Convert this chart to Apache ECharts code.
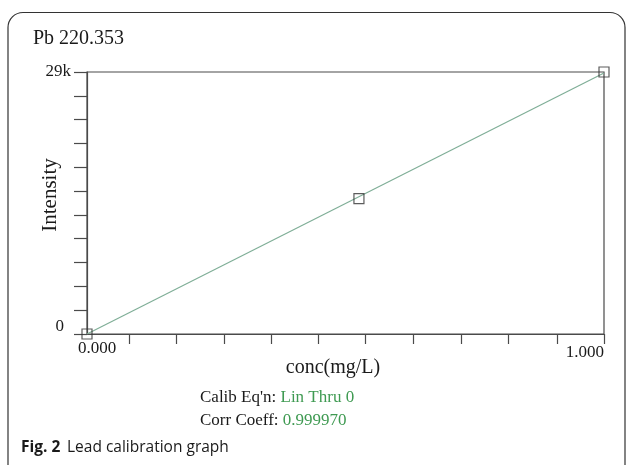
<!DOCTYPE html>
<html>
<head>
<meta charset="utf-8">
<style>
  html, body { margin: 0; padding: 0; background: #fff; }
  #chart { width: 627px; height: 465px; }
</style>
<script src="https://cdn.jsdelivr.net/npm/echarts@6/dist/echarts.min.js"></script>
</head>
<body>
<div id="chart"></div>
<script>
// Calibration standards for Pb 220.353
const concValues = [0.000, 0.526, 1.000];        // mg/L
const intensityValues = [0, 14980, 29000];       // counts

// Axis ranges and tick positions
const xMin = 0, xMax = 1;
const yMin = 0, yMax = 29000;
const xTickValues = [0.082, 0.173, 0.265, 0.356, 0.447, 0.539, 0.631, 0.723, 0.815, 0.909, 1.000];
const xLabelValues = [0, 1];
const yTickCount = 11;
const yLabelValues = [0, 29000];

// Calibration summary
const calibEquation = 'Lin Thru 0';
const corrCoeff = '0.999970';

// Linear fit forced through the origin: slope = Σxy / Σx²
let sxy = 0, sxx = 0;
concValues.forEach((x, i) => { sxy += x * intensityValues[i]; sxx += x * x; });
const slope = sxy / sxx;
const fitLine = [[xMin, slope * xMin], [xMax, slope * xMax]];

const yTickValues = [];
for (let k = 0; k <= yTickCount; k++) yTickValues.push(yMin + (yMax - yMin) * k / yTickCount);

const points = concValues.map((x, i) => [x, intensityValues[i]]);

const axisColor = '#4a4a4a';
const serif = '"Liberation Serif", "Times New Roman", serif';
const green = '#3f9a52';

const chart = echarts.init(document.getElementById('chart'));
chart.setOption({
  animation: false,
  backgroundColor: '#ffffff',
  grid: {
    left: 87, right: 23, top: 72, bottom: 131,
    show: true, borderColor: axisColor, borderWidth: 1.2, backgroundColor: 'transparent'
  },
  title: {
    text: 'Pb 220.353',
    left: 33, top: 29, padding: 0,
    textStyle: { fontFamily: serif, fontSize: 20, fontWeight: 'normal', color: '#1a1a1a' }
  },
  xAxis: {
    type: 'value', min: xMin, max: xMax,
    name: 'conc(mg/L)', nameLocation: 'middle', nameGap: 24, nameMoveOverlap: false,
    nameTextStyle: { fontFamily: serif, fontSize: 20, color: '#1a1a1a', padding: [0, 25, 0, 0] },
    axisLine: { show: true, lineStyle: { color: axisColor, width: 1.2 } },
    axisTick: { show: true, length: 10, customValues: xTickValues, lineStyle: { color: axisColor, width: 1.2 } },
    axisLabel: {
      customValues: xLabelValues, margin: 6,
      fontFamily: serif, fontSize: 17, color: '#1a1a1a',
      formatter: v => (v === 0 ? '{a|' + v.toFixed(3) + '}' : '{b|' + v.toFixed(3) + '}'),
      rich: {
        a: { fontFamily: serif, fontSize: 17, color: '#1a1a1a', padding: [0, 0, 0, 20] },
        b: { fontFamily: serif, fontSize: 17, color: '#1a1a1a', padding: [4, 0, 0, 0] }
      },
      alignMaxLabel: 'right'
    },
    splitLine: { show: false }
  },
  yAxis: {
    type: 'value', min: yMin, max: yMax,
    name: 'Intensity', nameLocation: 'middle', nameGap: 26, nameRotate: 90, nameMoveOverlap: false,
    nameTextStyle: { fontFamily: serif, fontSize: 21, color: '#1a1a1a', padding: [0, 0, 0, 16] },
    axisLine: { show: true, lineStyle: { color: axisColor, width: 1.2 } },
    axisTick: { show: true, length: 13, customValues: yTickValues, lineStyle: { color: axisColor, width: 1.2 } },
    axisLabel: {
      customValues: yLabelValues, margin: 16,
      fontFamily: serif, fontSize: 17, color: '#1a1a1a',
      formatter: v => (v === 0 ? '{z|0}' : Math.round(v / 1000) + 'k'),
      rich: {
        z: { fontFamily: serif, fontSize: 17, color: '#1a1a1a', padding: [0, 7, 14, 0] }
      }
    },
    splitLine: { show: false }
  },
  series: [
    {
      type: 'line', data: fitLine, symbol: 'none', silent: true,
      lineStyle: { color: '#7fae97', width: 1.2 }, z: 2
    },
    {
      type: 'scatter', data: points, symbol: 'rect', symbolSize: 10,
      itemStyle: { color: 'rgba(255,255,255,0)', borderColor: '#333', borderWidth: 1.2 }, z: 3
    }
  ],
  graphic: [
    {
      type: 'rect', silent: true,
      shape: { x: 8, y: 12.5, width: 617, height: 480, r: 15 },
      style: { fill: 'none', stroke: '#333', lineWidth: 1.2 }
    },
    {
      type: 'text', left: 200, top: 389,
      style: {
        text: '{k|Calib Eq\'n: }{v|' + calibEquation + '}',
        rich: {
          k: { fontFamily: serif, fontSize: 17, fill: '#1a1a1a' },
          v: { fontFamily: serif, fontSize: 17, fill: green }
        }
      }
    },
    {
      type: 'text', left: 200, top: 412,
      style: {
        text: '{k|Corr Coeff: }{v|' + corrCoeff + '}',
        rich: {
          k: { fontFamily: serif, fontSize: 17, fill: '#1a1a1a' },
          v: { fontFamily: serif, fontSize: 17, fill: green }
        }
      }
    },
    {
      type: 'text', left: 21, top: 440,
      style: {
        text: '{b|Fig. 2}  {r|Lead calibration graph}',
        rich: {
          b: { fontFamily: '"Open Sans", sans-serif', fontSize: 15.5, fontWeight: 'bold', fill: '#1a1a1a' },
          r: { fontFamily: '"Open Sans", sans-serif', fontSize: 15.5, fill: '#1a1a1a' }
        }
      }
    }
  ]
});
</script>
</body>
</html>
